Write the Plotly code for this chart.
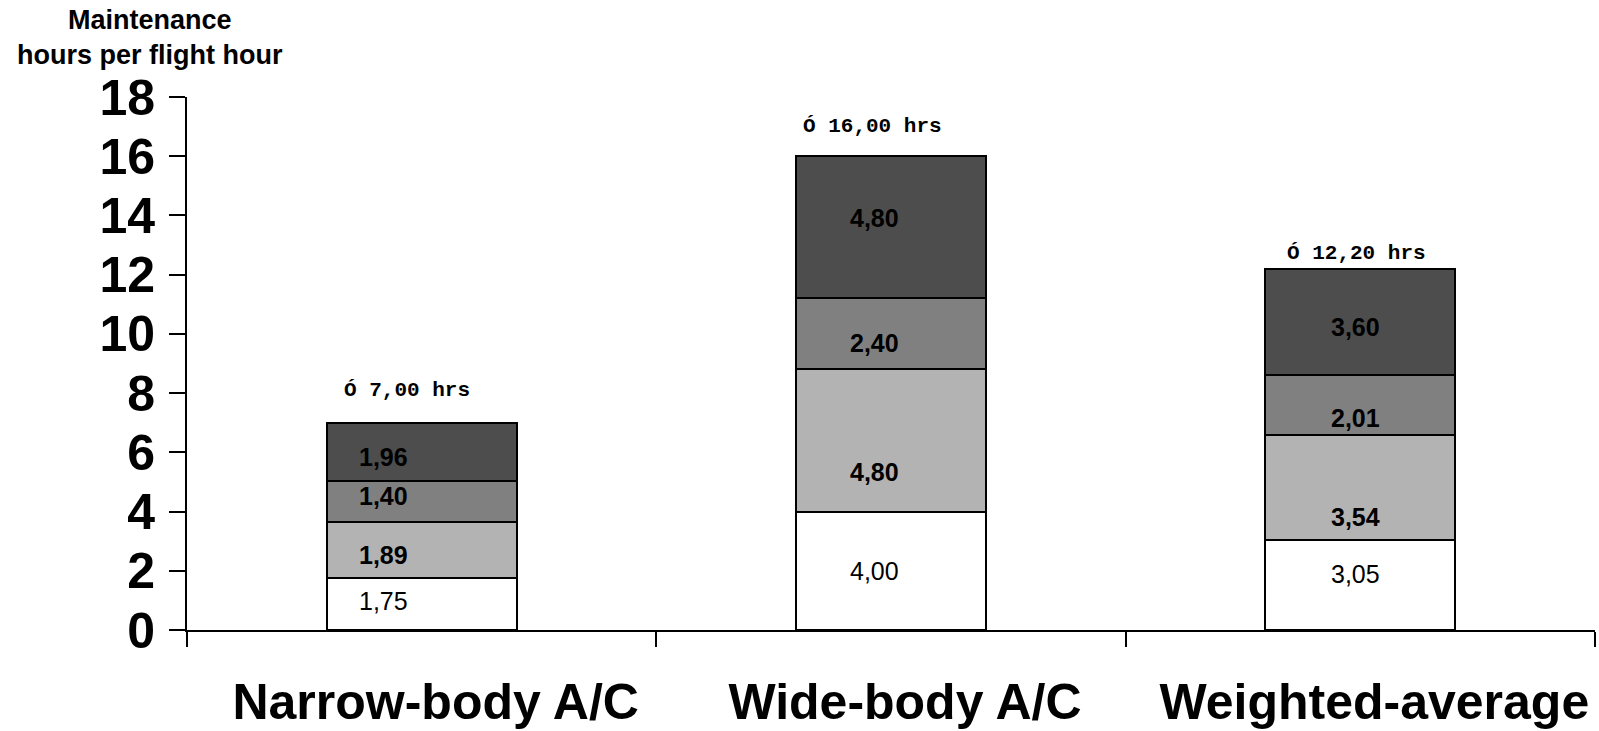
import plotly.graph_objects as go

categories = ["Narrow-body A/C", "Wide-body A/C", "Weighted-average"]
seg1 = [1.75, 4.00, 3.05]
seg2 = [1.89, 4.80, 3.54]
seg3 = [1.40, 2.40, 2.01]
seg4 = [1.96, 4.80, 3.60]
y_ticks = [0, 2, 4, 6, 8, 10, 12, 14, 16, 18]

series = [seg1, seg2, seg3, seg4]
names = ["Component 1", "Component 2", "Component 3", "Component 4"]
colors = ["#ffffff", "#b3b3b3", "#808080", "#4d4d4d"]
bold = [False, True, True, True]
# label pixel nudges (styling)
lab_yshift = [[3, 0, 11], [-5, -32, -30], [5, -9, -13], [-5, 9, -5]]
lab_xshift = [-38, -17, -5]
tot_xshift = [-15, -19, -4]
tot_yshift = [32, 30, 15]

def fmt(v):
    return f"{v:.2f}".replace(".", ",")

fig = go.Figure()
for s, n, c in zip(series, names, colors):
    fig.add_trace(go.Bar(x=categories, y=s, name=n, marker=dict(color=c, line=dict(color="#000000", width=2)),
                         width=0.405, showlegend=False, hoverinfo="skip"))

annotations = []
bases = [0.0] * len(categories)
for si, s in enumerate(series):
    for ci, v in enumerate(s):
        txt = fmt(v)
        if bold[si]:
            txt = f"<b>{txt}</b>"
        annotations.append(dict(x=categories[ci], y=bases[ci] + v / 2, text=txt, showarrow=False,
                                xshift=lab_xshift[ci], yshift=lab_yshift[si][ci],
                                font=dict(family="Liberation Sans, Arial", size=25, color="#000000"),
                                xanchor="center", yanchor="middle"))
        bases[ci] += v

for ci, tot in enumerate(bases):
    annotations.append(dict(x=categories[ci], y=tot, text=f"<b>Ó {fmt(tot)} hrs</b>", showarrow=False,
                            xshift=tot_xshift[ci], yshift=tot_yshift[ci],
                            font=dict(family="Liberation Mono, Courier New", size=21, color="#000000"),
                            xanchor="center", yanchor="middle"))

annotations.append(dict(xref="paper", yref="paper", x=-0.0263, y=1.112,
                        text="<b>Maintenance<br>hours per flight hour</b>", showarrow=False,
                        xanchor="center", yanchor="middle",
                        font=dict(family="Liberation Sans, Arial", size=27, color="#000000")))

fig.update_layout(
    barmode="stack",
    width=1599, height=731,
    margin=dict(l=187, r=4, t=97, b=101),
    paper_bgcolor="#ffffff", plot_bgcolor="#ffffff",
    annotations=annotations,
    xaxis=dict(type="category", tickson="boundaries", ticks="outside", ticklen=15, tickwidth=2,
               tickcolor="#000000", showline=True, linecolor="#000000", linewidth=2,
               showgrid=False, ticklabelshift=14, ticklabelstandoff=27, automargin=False,
               tickfont=dict(family="Liberation Sans, Arial", size=50, color="#000000", weight="bold"),
               range=[-0.5, 2.5]),
    yaxis=dict(range=[0, 18], tickvals=y_ticks, ticks="outside", ticklen=16, tickwidth=2,
               tickcolor="#000000", showline=True, linecolor="#000000", linewidth=2,
               showgrid=False, zeroline=False, ticklabelstandoff=4, automargin=False,
               tickfont=dict(family="Liberation Sans, Arial", size=50, color="#000000", weight="bold")),
)

fig.write_html("out.html")
